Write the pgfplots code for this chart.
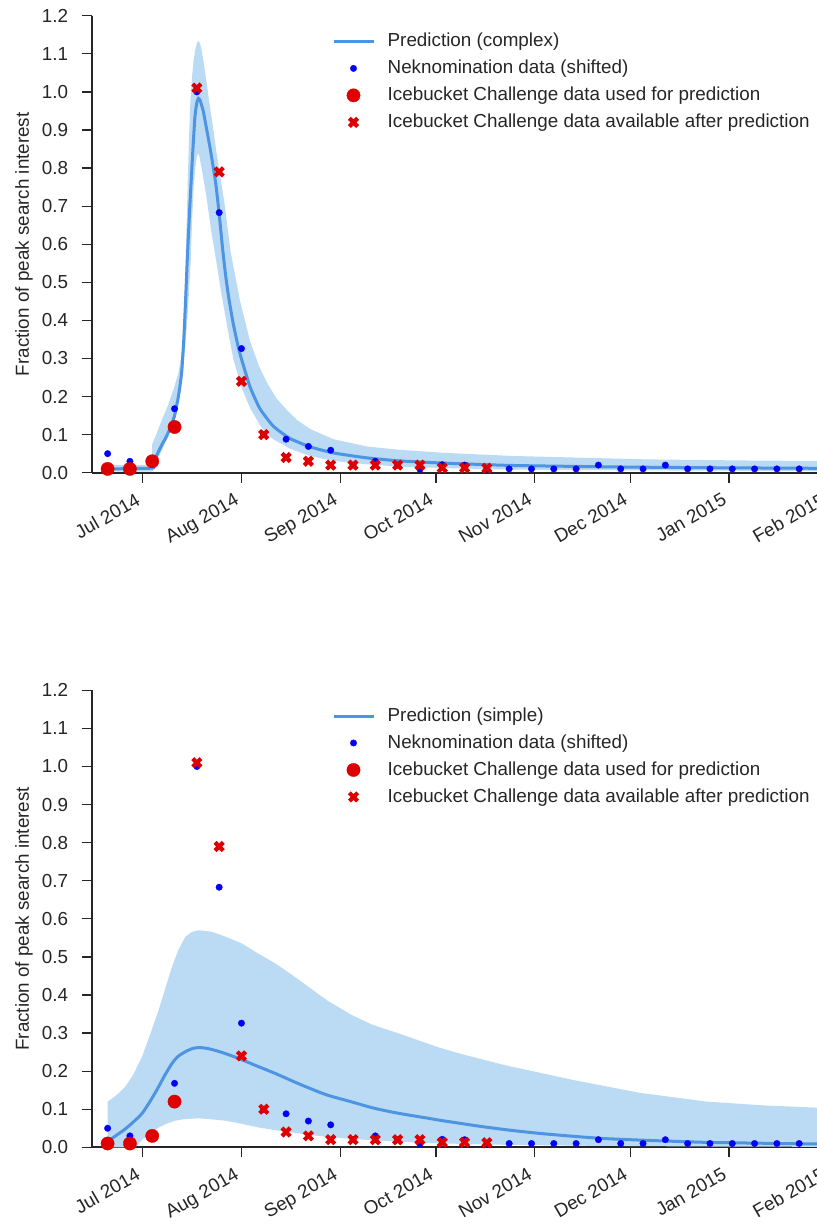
\documentclass[border=0pt]{standalone}
\usepackage{fontspec}
\setmainfont{Liberation Sans}
\usepackage{pgfplots}
\usepackage{pgfplotstable}
\pgfplotsset{compat=1.18}
\definecolor{predline}{RGB}{77,148,226}
\definecolor{bandblue}{RGB}{187,218,243}
\definecolor{icered}{RGB}{222,0,0}
\definecolor{txtgray}{RGB}{38,38,38}

\pgfplotstableread{
d y
-11 0.05
-4 0.03
3 0.03
10 0.168
17 1.0
24 0.683
31 0.326
38 0.10
45 0.088
52 0.069
59 0.059
66 0.02
73 0.03
80 0.02
87 0.009
94 0.021
101 0.02
108 0.01
115 0.01
122 0.01
129 0.01
136 0.01
143 0.02
150 0.01
157 0.01
164 0.02
171 0.01
178 0.01
185 0.01
192 0.01
199 0.01
206 0.01
213 0.01
}\nekdata

\pgfplotstableread{
d y
-11 0.01
-4 0.01
3 0.03
10 0.12
}\iceused

\pgfplotstableread{
d y
17 1.01
24 0.79
31 0.24
38 0.10
45 0.04
52 0.03
59 0.02
66 0.02
73 0.02
80 0.02
87 0.02
94 0.013
101 0.013
108 0.012
}\iceafter

\pgfplotsset{
  chartstyle/.style={
    x=1.9122pt, y=228.48pt,
    xmin=-15.9, xmax=225, ymin=0, ymax=1.2,
    axis x line*=bottom, axis y line*=left,
    axis line style={-, line width=1.2pt, txtgray},
    tick align=outside, major tick length=6pt,
    tick style={line width=0.75pt, txtgray},
    xtick={0,31,62,92,123,153,184,215},
    xticklabels={Jul 2014,Aug 2014,Sep 2014,Oct 2014,Nov 2014,Dec 2014,Jan 2015,Feb 2015},
    ytick={0,0.1,0.2,0.3,0.4,0.5,0.6,0.7,0.8,0.9,1.0,1.1,1.2},
    /pgf/number format/assume math mode=true,
    yticklabel style={/pgf/number format/fixed, /pgf/number format/fixed zerofill, /pgf/number format/precision=1, text=txtgray, xshift=-4.8pt},
    xticklabel style={rotate=30, anchor=north east, text=txtgray, xshift=-3.5pt, yshift=1pt},
    ylabel={Fraction of peak search interest},
    every axis y label/.style={at={(axis description cs:-0.0886,0.5)}, rotate=90, anchor=center, text=txtgray},
    legend style={draw=none, fill=none, inner sep=0pt, outer sep=0pt,
      at={(0.3126,0.9615)}, anchor=north west, text=txtgray,
      row sep=6.5pt, column sep=7.6pt, nodes={inner sep=0pt}},
    legend cell align=left,
    legend image code/.code={\draw[mark repeat=2,mark phase=2,##1] plot coordinates {(0pt,0pt) (12pt,0pt) (24pt,0pt)};},
  },
  nekstyle/.style={blue, only marks, mark=*, mark size=1.95pt, mark options={solid, fill=blue, draw=blue, line width=0.2pt}},
  usedstyle/.style={icered, only marks, mark=*, mark size=4.0pt, mark options={solid, fill=icered, draw=icered, line width=0.2pt}},
  afterstyle/.style={icered, only marks, mark=x, mark size=3.5pt, mark options={solid, draw=icered, line width=2.5pt}},
}

\begin{document}
\begin{tikzpicture}[font=\fontsize{11.3}{13.5}\selectfont]

% ---------------- top: complex prediction ----------------
\begin{axis}[chartstyle, at={(0pt,0pt)}, anchor=south west]
\addplot[fill=bandblue, draw=none, forget plot] coordinates {
(-11,0.02) (3,0.02) (3,0.075) (4,0.095) (6,0.138) (8,0.178) (9.6,0.217) (11.2,0.261) (12.4,0.322) (13,0.42) (13.5,0.56) (14,0.72) (14.5,0.87) (15,0.98) (15.5,1.04) (16,1.085) (16.5,1.11) (17,1.128) (17.5,1.134) (18,1.127) (18.5,1.11) (19.5,1.057) (20.3,1.01) (21.1,0.961) (22.2,0.90) (23.2,0.839) (24.5,0.77) (25.8,0.70) (27.6,0.58) (30.5,0.453) (33.7,0.345) (36.5,0.28) (38.9,0.238) (42,0.195) (45.2,0.165) (48.5,0.138) (52.5,0.115) (59.8,0.088) (70.3,0.069) (80.7,0.060) (95,0.052) (116,0.044) (158,0.035) (190,0.032) (225,0.030)
(225,0.004) (158,0.006) (116,0.008) (95,0.012) (80.7,0.016) (70.3,0.022) (59.8,0.031) (52.5,0.044) (46.2,0.063) (41,0.088) (38.9,0.103) (36.8,0.125) (33.7,0.17) (31.1,0.222) (28.4,0.30) (26.4,0.39) (24.5,0.48) (23.2,0.55) (21.7,0.625) (21,0.665) (20,0.725) (19,0.775) (18.5,0.80) (17.8,0.83) (17.4,0.839) (17,0.83) (16.5,0.80) (16,0.75) (15.5,0.66) (15.1,0.56) (14.5,0.47) (14,0.40) (13.3,0.33) (12.7,0.27) (12,0.22) (11,0.17) (10.1,0.138) (8,0.095) (6.5,0.068) (5,0.04) (3.3,0.008) (3,0.003) (-11,0.003)
} -- cycle;
\addplot[predline, line width=1.8pt, smooth, tension=0.3] coordinates {
(-11,0.01) (3,0.012) (3.3,0.022) (4,0.038) (5,0.056) (6,0.073) (7,0.088) (8,0.105) (9,0.125) (10,0.15) (11.2,0.20) (12.2,0.26) (12.9,0.35) (13.5,0.46) (14,0.56) (14.8,0.70) (15.7,0.84) (16.4,0.935) (17,0.972) (17.5,0.983) (18,0.978) (19,0.95) (20,0.905) (21,0.86) (22,0.81) (23,0.755) (24,0.68) (25,0.595) (26,0.52) (27,0.46) (28.4,0.392) (30,0.33) (31.1,0.296) (33.7,0.225) (36.8,0.168) (41,0.122) (46.2,0.09) (52.5,0.068) (59.8,0.052) (70.3,0.039) (80.7,0.031) (95,0.025) (116,0.019) (150,0.015) (180,0.013) (225,0.011)
};
\addlegendentry{Prediction (complex)}
\addplot[nekstyle] table[x=d,y=y] {\nekdata};
\addlegendentry{Neknomination data (shifted)}
\addplot[usedstyle] table[x=d,y=y] {\iceused};
\addlegendentry{Icebucket Challenge data used for prediction}
\addplot[afterstyle] table[x=d,y=y] {\iceafter};
\addlegendentry{Icebucket Challenge data available after prediction}
\end{axis}

% ---------------- bottom: simple prediction ----------------
\begin{axis}[chartstyle, at={(0pt,-404.76pt)}, anchor=south west]
\addplot[fill=bandblue, draw=none, forget plot] coordinates {
(-11,0.12) (-8,0.138) (-5.5,0.159) (-3,0.19) (-0.2,0.238) (2.5,0.30) (5,0.36) (7,0.415) (9.2,0.474) (11.3,0.52) (13.4,0.553) (15.5,0.566) (17.6,0.570) (21.7,0.566) (26,0.553) (31.2,0.535) (36,0.51) (41.6,0.483) (47,0.452) (52.1,0.421) (58,0.385) (65.7,0.347) (72,0.322) (80,0.30) (93,0.262) (100,0.245) (114,0.215) (135,0.177) (156,0.143) (177,0.12) (195,0.11) (212,0.104) (225,0.10)
(225,0.001) (180,0.002) (140,0.004) (110,0.007) (90,0.011) (75,0.017) (65.7,0.022) (57.3,0.028) (52,0.033) (46.8,0.039) (41.6,0.045) (36.4,0.052) (31,0.062) (25.9,0.07) (21,0.074) (17.6,0.076) (13,0.074) (10.2,0.07) (7.5,0.062) (5,0.052) (2.5,0.036) (-0.2,0.02) (-2.3,0.0) (-11,0.0)
} -- cycle;
\addplot[predline, line width=1.8pt, smooth, tension=0.5] coordinates {
(-11,0.015) (-8,0.033) (-5.5,0.048) (-3,0.066) (-0.2,0.089) (2.5,0.123) (5,0.159) (7,0.19) (9.2,0.22) (11,0.238) (13.4,0.251) (15.5,0.259) (17.6,0.262) (20,0.26) (23,0.254) (26,0.246) (29,0.237) (32,0.227) (36,0.213) (41.6,0.194) (47,0.174) (52.1,0.156) (58,0.137) (65.7,0.119) (72,0.104) (78.6,0.092) (84,0.084) (89.1,0.077) (93.3,0.071) (99.6,0.063) (106,0.055) (114.2,0.046) (124,0.037) (135,0.029) (145,0.023) (156,0.019) (166,0.016) (177,0.013) (192,0.011) (208,0.009) (225,0.008)
};
\addlegendentry{Prediction (simple)}
\addplot[nekstyle] table[x=d,y=y] {\nekdata};
\addlegendentry{Neknomination data (shifted)}
\addplot[usedstyle] table[x=d,y=y] {\iceused};
\addlegendentry{Icebucket Challenge data used for prediction}
\addplot[afterstyle] table[x=d,y=y] {\iceafter};
\addlegendentry{Icebucket Challenge data available after prediction}
\end{axis}

\pgfresetboundingbox
\useasboundingbox (-55.2pt,283.62pt) rectangle (435pt,-450.78pt);
\end{tikzpicture}
\end{document}
